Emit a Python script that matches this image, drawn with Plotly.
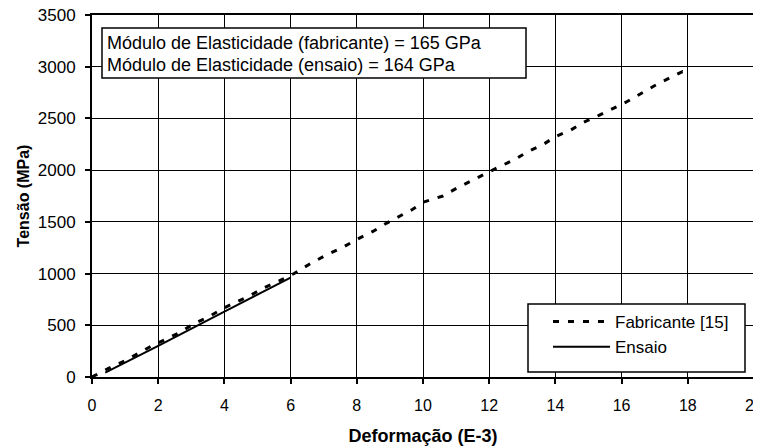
import plotly.graph_objects as go

# Data
fab_x = [0, 0.5, 1.0, 1.35, 1.8, 2.25, 2.66, 3.1, 3.5, 3.96, 4.37, 4.77, 5.22, 5.67,
         6.12, 6.58, 7.08, 7.58, 8.0, 8.5, 8.89, 9.69, 10.0, 10.6, 11.05, 11.5, 11.89,
         12.31, 12.79, 13.16, 13.64, 14.0, 14.47, 14.84, 15.3, 15.7, 16.13, 16.51,
         16.98, 17.44, 17.84, 17.95]
fab_y = [0, 84, 158, 219, 300, 367, 432, 519, 577, 664, 728, 786, 867, 931,
         1003, 1093, 1180, 1254, 1330, 1410, 1486, 1622, 1690, 1750, 1831, 1905, 1970,
         2034, 2105, 2179, 2250, 2324, 2389, 2460, 2527, 2592, 2657, 2727,
         2814, 2889, 2953, 2940]

ens_x = [0.4, 2.0, 4.0, 6.0]
ens_y = [42, 300, 632, 960]

x_ticks = [0, 2, 4, 6, 8, 10, 12, 14, 16, 18, 20]
y_ticks = [0, 500, 1000, 1500, 2000, 2500, 3000, 3500]

info_lines = ["Módulo de Elasticidade (fabricante) = 165 GPa",
              "Módulo de Elasticidade (ensaio) = 164 GPa"]

FONT = "Arial, Liberation Sans, sans-serif"

# plot area in page pixels: x 92..754, y 15..377 (page body has an 8px margin)
PL, PR, PT, PB = 92.0, 754.0, 15.0, 377.0
OFF = 8
W, H = 761 - OFF, 448 - OFF


def px(xp):
    return (xp - PL) / (PR - PL)


def py(yp):
    return (PB - yp) / (PB - PT)


fig = go.Figure()
fig.add_trace(go.Scatter(x=fab_x, y=fab_y, mode="lines", name="Fabricante [15]",
                         legendgroup="a",
                         line=dict(color="black", width=3, dash="6px,9px")))
fig.add_trace(go.Scatter(x=ens_x, y=ens_y, mode="lines", name="Ensaio",
                         legendgroup="b",
                         line=dict(color="black", width=2)))

axis_common = dict(
    showgrid=True, gridcolor="black", gridwidth=1.3,
    showline=True, linecolor="black", linewidth=1.8, mirror=True,
    ticks="outside", ticklen=5, tickwidth=1.5, tickcolor="black",
    zeroline=False, automargin=False, ticklabeloverflow="allow",
)

fig.update_xaxes(range=[0, 20], tickvals=x_ticks, ticktext=[str(v) for v in x_ticks],
                 tickfont=dict(family=FONT, size=16, color="black"),
                 ticklabelstandoff=8,
                 title=dict(text="<b>Deformação (E-3)</b>", standoff=16,
                            font=dict(family=FONT, size=18, color="black")),
                 **axis_common)
fig.update_yaxes(range=[0, 3500], tickvals=y_ticks, ticktext=[str(v) for v in y_ticks],
                 tickfont=dict(family=FONT, size=17, color="black"),
                 ticklabelstandoff=6,
                 title=dict(text="<b>Tensão (MPa)</b>", standoff=4,
                            font=dict(family=FONT, size=16, color="black")),
                 **axis_common)

# info box (top left)
fig.add_shape(type="rect", xref="paper", yref="paper",
              x0=px(102), x1=px(526), y0=py(78), y1=py(28),
              fillcolor="white", line=dict(color="black", width=1.5), layer="above")
for txt, yc in zip(info_lines, [43, 65]):
    fig.add_annotation(xref="paper", yref="paper", x=px(105), y=py(yc),
                       xanchor="left", yanchor="middle", text=txt, showarrow=False,
                       font=dict(family=FONT, size=18, color="black"))

# legend frame
fig.add_shape(type="rect", xref="paper", yref="paper",
              x0=px(528), x1=px(745), y0=py(372), y1=py(304),
              fillcolor="white", line=dict(color="black", width=1.5), layer="above")

fig.update_layout(
    width=W, height=H,
    margin=dict(l=PL - OFF, r=W - (PR - OFF), t=PT - OFF, b=H - (PB - OFF)),
    paper_bgcolor="white", plot_bgcolor="white",
    showlegend=True,
    legend=dict(x=px(548), y=py(304), xanchor="left", yanchor="top",
                bgcolor="rgba(0,0,0,0)", borderwidth=0,
                font=dict(family=FONT, size=17, color="black"),
                itemwidth=57, tracegroupgap=21, traceorder="normal"),
)

fig.write_html("out.html")
